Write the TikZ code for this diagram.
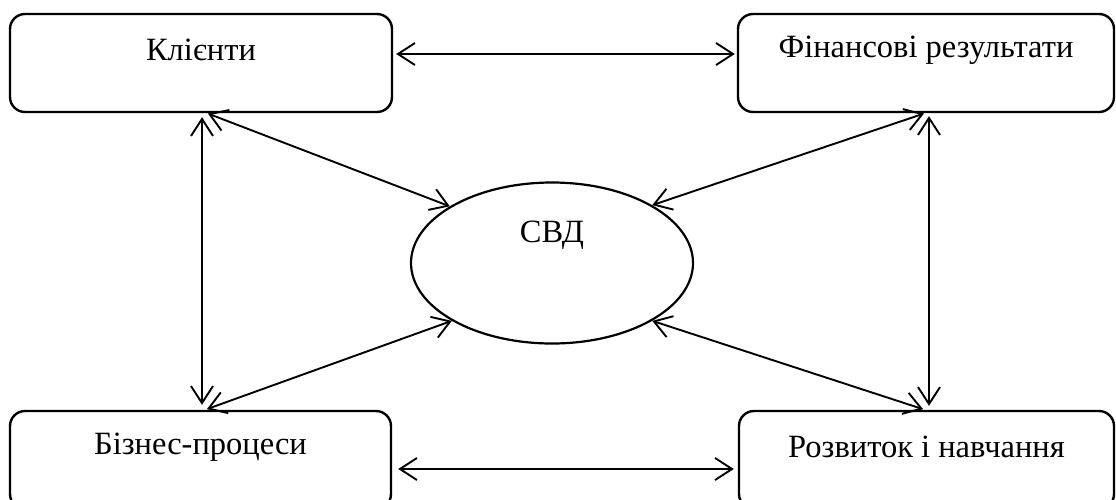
\documentclass[tikz,border=0pt]{standalone}
\usepackage{fontspec}
\setmainfont{Liberation Serif}
\usetikzlibrary{arrows.meta,shapes.geometric}
\tikzset{
  block/.style={draw, line width=2.4pt, rounded corners=15pt, minimum height=98pt, inner sep=0pt},
  caption/.style={font=\fontsize{32.5}{36}\selectfont, inner sep=0pt},
  core/.style={draw, ellipse, line width=2.2pt, minimum width=282pt, minimum height=161pt, inner sep=0pt},
  vbarb/.tip={Straight Barb[length=17pt,width=22pt,line width=1.9pt]},
  link/.style={line width=1.9pt, vbarb-vbarb}
}
\begin{document}
\begin{tikzpicture}[x=1pt,y=-1pt]
  \useasboundingbox (0,0) rectangle (1116,499);
  \clip (0,0) rectangle (1116,499);

  % four perspective blocks
  \node[block, minimum width=382pt] (kl) at (201,63) {};
  \node[block, minimum width=376pt] (fin) at (926,63) {};
  \node[block, minimum width=381pt] (bp) at (200.5,460) {};
  \node[block, minimum width=375pt] (rozv) at (926.5,460) {};

  \node[caption] (klt) at (201,50) {Клієнти};
  \node[caption] (fint) at (926,50) {Фінансові результати};
  \node[caption] (bpt) at (200.5,447) {Бізнес-процеси};
  \node[caption] (rozvt) at (926.5,447) {Розвиток і навчання};

  % central ellipse
  \node[core] (svd) at (552,263) {};
  \node[caption] (svdt) at (552,235) {СВД};

  % links between neighbouring blocks
  \draw[link, shorten <=3pt, shorten >=2pt] ([yshift=9pt]kl.east) -- ([yshift=9pt]fin.west);
  \draw[link, shorten <=6pt, shorten >=4pt] ([yshift=-9pt]bp.east) -- ([yshift=-9pt]rozv.west);
  \draw[link, shorten <=4pt, shorten >=5pt] ([xshift=1pt]kl.south) -- ([xshift=1.5pt]bp.north);
  \draw[link, shorten <=3pt, shorten >=4pt] ([xshift=3pt]fin.south) -- ([xshift=2.5pt]rozv.north);

  % links to the centre
  \draw[link, shorten <=1pt] ([xshift=6pt]kl.south) -- (svd.151);
  \draw[link, shorten <=1pt] ([xshift=-1pt]fin.south) -- (svd.30);
  \draw[link, shorten <=2pt] ([xshift=4.5pt]bp.north) -- (svd.210);
  \draw[link, shorten <=2pt] ([xshift=-1.5pt]rozv.north) -- (svd.330);
\end{tikzpicture}
\end{document}
